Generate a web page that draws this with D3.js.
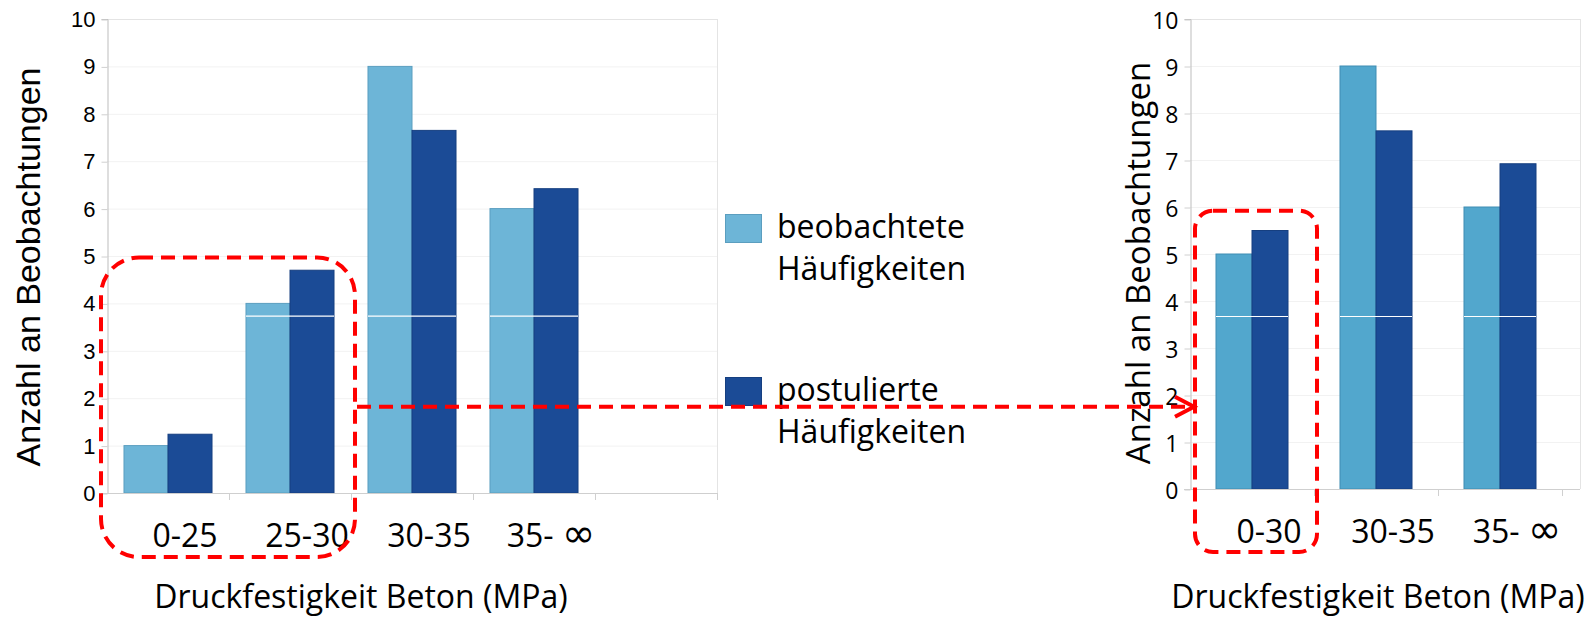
<!DOCTYPE html>
<html>
<head>
<meta charset="utf-8">
<script src="https://cdn.jsdelivr.net/npm/d3@7"></script>
<style>
    body { margin: 0; background: #FFFFFF; }
    svg { display: block; }
</style>
</head>
<body>
<div class="chart-container"></div>
<script>
// Data - left chart (original classes)
const classesLeft = ["0-25", "25-30", "30-35", "35- \u221E", ""];
const observedLeft = [1, 4, 9, 6, null];
const expectedLeft = [1.24, 4.7, 7.65, 6.42, null];

// Data - right chart (first two classes merged)
const classesRight = ["0-30", "30-35", "35- \u221E"];
const observedRight = [5, 9, 6];
const expectedRight = [5.5, 7.62, 6.92];

const yTicks = [0, 1, 2, 3, 4, 5, 6, 7, 8, 9, 10];
const seriesNames = ["beobachtete", "postulierte"];
const legendLabels = [["beobachtete", "H\u00E4ufigkeiten"], ["postulierte", "H\u00E4ufigkeiten"]];

// thin white seam visible across the bars in the original picture
const seamLeft = 3.73;
const seamRight = 3.67;

const svg = d3.select(".chart-container")
    .append("svg")
        .attr("width", 1593)
        .attr("height", 618);

const createBarChart = (opts) => {
    const data = opts.classes.map((c, i) => ({
        cls: c,
        values: [
            { key: seriesNames[0], value: opts.observed[i] },
            { key: seriesNames[1], value: opts.expected[i] }
        ]
    }));

    const x0 = d3.scaleBand()
        .domain(opts.classes)
        .range([opts.left, opts.right]);

    const x1 = d3.scaleBand()
        .domain(seriesNames)
        .range([0, x0.bandwidth()])
        .paddingOuter(opts.outerPad);

    const y = d3.scaleLinear()
        .domain([0, 10])
        .range([opts.bottom, opts.top]);

    const g = svg.append("g");

    // gridlines
    g.selectAll(".grid")
        .data(yTicks.filter(t => t > 0))
        .join("line")
            .attr("x1", opts.left)
            .attr("x2", opts.frameRight)
            .attr("y1", d => y(d) + 0.5)
            .attr("y2", d => y(d) + 0.5)
            .attr("stroke", d => d === 10 ? "#E4E4E4" : "#F2F2F2")
            .attr("stroke-width", 1);

    // right frame line
    g.append("line")
        .attr("x1", opts.frameRight + 0.5)
        .attr("x2", opts.frameRight + 0.5)
        .attr("y1", y(10))
        .attr("y2", y(0))
        .attr("stroke", "#E4E4E4");

    // bars
    const group = g.selectAll(".group")
        .data(data.filter(d => d.values[0].value !== null))
        .join("g")
            .attr("transform", d => `translate(${x0(d.cls)}, 0)`);

    group.selectAll("rect")
        .data(d => d.values)
        .join("rect")
            .attr("x", d => x1(d.key))
            .attr("y", d => y(d.value))
            .attr("width", x1.bandwidth())
            .attr("height", d => y(0) - y(d.value))
            .attr("fill", (d, i) => i === 0 ? opts.light : "#1B4B96")
            .attr("stroke", (d, i) => i === 0 ? opts.lightStroke : "#163F80")
            .attr("stroke-width", 1);

    group.append("line")
        .attr("x1", x1(seriesNames[0]))
        .attr("x2", x1(seriesNames[1]) + x1.bandwidth())
        .attr("y1", y(opts.seam))
        .attr("y2", y(opts.seam))
        .attr("stroke", "#FFFFFF")
        .attr("stroke-width", 1.2);

    // y axis
    const yAxis = g.append("g")
        .attr("transform", `translate(${opts.left + 0.5}, 0)`)
        .call(d3.axisLeft(y).tickValues(yTicks).tickSize(6).tickPadding(opts.tickPad));
    yAxis.select(".domain").attr("stroke", "#BDBDBD");
    yAxis.selectAll(".tick line").attr("stroke", "#D0D0D0").attr("transform", "translate(0,0.5)");
    yAxis.selectAll(".tick text")
        .style("font-family", opts.tickFont)
        .style("font-size", opts.tickSize)
        .style("fill", "#000000")
        .attr("dy", opts.tickDy);

    // x axis line + ticks at class boundaries
    g.append("line")
        .attr("x1", opts.left - 6)
        .attr("x2", opts.frameRight)
        .attr("y1", y(0) + 0.5)
        .attr("y2", y(0) + 0.5)
        .attr("stroke", "#CFCFCF");

    const bounds = opts.classes.map(c => x0(c)).concat([x0(opts.classes[opts.classes.length - 1]) + x0.step()]);
    g.selectAll(".xtick")
        .data(bounds.slice(1))
        .join("line")
            .attr("x1", d => d + 0.5)
            .attr("x2", d => d + 0.5)
            .attr("y1", y(0))
            .attr("y2", y(0) + 7)
            .attr("stroke", "#D0D0D0");

    // class labels (the infinity sign is drawn larger, as in the original)
    g.selectAll(".xlabel")
        .data(opts.classes)
        .join("text")
            .attr("x", d => x0(d) + x0.bandwidth() / 2 + opts.labelShift)
            .attr("y", opts.labelBaseline)
            .attr("text-anchor", "middle")
            .style("font-family", "'Open Sans', sans-serif")
            .style("font-size", "32px")
            .style("fill", "#000000")
            .each(function(d) {
                const t = d3.select(this);
                const parts = d.split("\u221E");
                t.append("tspan").text(parts[0]);
                if (parts.length > 1) {
                    t.append("tspan")
                        .text("\u221E")
                        .style("font-family", "'DejaVu Sans', sans-serif")
                        .style("font-size", "40px");
                }
            });

    // axis titles
    g.append("text")
        .text("Druckfestigkeit Beton (MPa)")
        .attr("x", opts.xTitleX)
        .attr("y", 608)
        .attr("text-anchor", "middle")
        .style("font-family", "'Open Sans', sans-serif")
        .style("font-size", "32px")
        .style("fill", "#000000");

    g.append("text")
        .text("Anzahl an Beobachtungen")
        .attr("transform", `translate(${opts.yTitleX}, ${opts.yTitleY}) rotate(-90)`)
        .attr("text-anchor", "middle")
        .style("font-family", opts.yTitleFont)
        .style("font-size", opts.yTitleSize)
        .style("fill", "#000000");

    return { x0, y };
};

const left = createBarChart({
    classes: classesLeft, observed: observedLeft, expected: expectedLeft,
    left: 107, right: 717, frameRight: 717, top: 19, bottom: 493,
    outerPad: 0.386, light: "#6DB5D7", lightStroke: "#5B9EBF", seam: seamLeft,
    tickFont: "'Liberation Sans', Arial, sans-serif", tickSize: "22px", tickPad: 6, tickDy: "0.34em",
    labelShift: 17, labelBaseline: 547,
    xTitleX: 361, yTitleX: 40, yTitleY: 267,
    yTitleFont: "'Liberation Sans', Arial, sans-serif", yTitleSize: "34px"
});

const right = createBarChart({
    classes: classesRight, observed: observedRight, expected: expectedRight,
    left: 1190, right: 1562, frameRight: 1580, top: 19, bottom: 489,
    outerPad: 0.722, light: "#52A7CD", lightStroke: "#3F8DB3", seam: seamRight,
    tickFont: "'Open Sans', sans-serif", tickSize: "23px", tickPad: 6, tickDy: "0.4em",
    labelShift: 17, labelBaseline: 543,
    xTitleX: 1378, yTitleX: 1150, yTitleY: 263,
    yTitleFont: "'Open Sans', sans-serif", yTitleSize: "33px"
});

// legend
const legend = svg.append("g");
const legendColors = [["#6DB5D7", "#5B9EBF"], ["#1B4B96", "#163F80"]];
const legendTops = [214, 377];
legendLabels.forEach((lines, i) => {
    legend.append("rect")
        .attr("x", 725.5)
        .attr("y", legendTops[i] + 0.5)
        .attr("width", 36)
        .attr("height", 28)
        .attr("fill", legendColors[i][0])
        .attr("stroke", legendColors[i][1]);
    lines.forEach((t, j) => {
        legend.append("text")
            .text(t)
            .attr("x", 777)
            .attr("y", legendTops[i] + 24 + j * 42)
            .style("font-family", "'Open Sans', sans-serif")
            .style("font-size", "32px")
            .style("fill", "#000000");
    });
});

// red dashed annotations
const red = svg.append("g")
    .attr("fill", "none")
    .attr("stroke", "#FF0000")
    .attr("stroke-width", 4)
    .attr("stroke-dasharray", "14 8");

const lx0 = left.x0;
red.append("rect")
    .attr("x", lx0(classesLeft[0]) - 6)
    .attr("y", left.y(4.97))
    .attr("width", lx0(classesLeft[1]) + lx0.step() + 4 - (lx0(classesLeft[0]) - 6))
    .attr("height", left.y(0) + 64 - left.y(4.97))
    .attr("rx", 38);

const rx0 = right.x0;
red.append("rect")
    .attr("x", rx0(classesRight[0]) + 5)
    .attr("y", right.y(5.92))
    .attr("width", rx0.step() - 2)
    .attr("height", right.y(0) + 63 - right.y(5.92))
    .attr("rx", 18);

const arrowY = left.y(1.82);
const arrowEnd = rx0(classesRight[0]) + 4;
red.append("line")
    .attr("x1", lx0(classesLeft[1]) + lx0.step() + 6)
    .attr("x2", arrowEnd)
    .attr("y1", arrowY)
    .attr("y2", arrowY);

svg.append("path")
    .attr("d", `M${arrowEnd - 19},${arrowY - 10} L${arrowEnd},${arrowY} L${arrowEnd - 19},${arrowY + 10}`)
    .attr("fill", "none")
    .attr("stroke", "#FF0000")
    .attr("stroke-width", 4);
</script>
</body>
</html>
